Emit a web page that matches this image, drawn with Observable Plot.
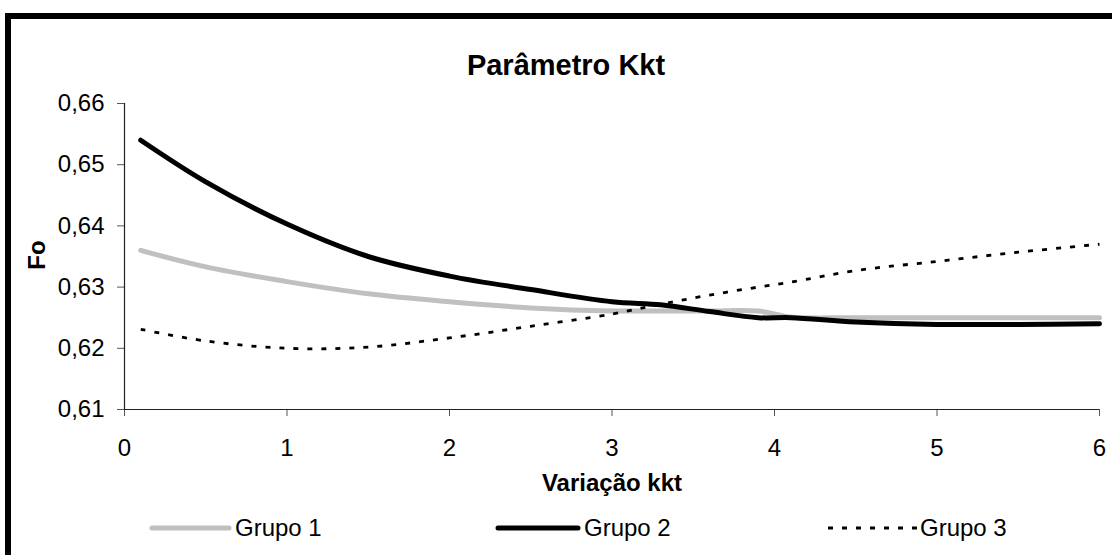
<!DOCTYPE html>
<html>
<head>
<meta charset="utf-8">
<script src="https://cdn.jsdelivr.net/npm/d3@7"></script>
<script src="https://cdn.jsdelivr.net/npm/@observablehq/plot@0.6"></script>
<style>
  html, body { margin: 0; padding: 0; background: #fff; overflow: hidden; }
  #wrap { position: relative; width: 1112px; height: 555px; overflow: hidden; font-family: "Liberation Sans", Arial, sans-serif; color: #000; }
  #frame { position: absolute; left: 5px; top: 13px; width: 1200px; height: 700px; border: 6px solid #000; box-sizing: border-box; }
  #chart { position: absolute; left: 0; top: 0; }
  .t { position: absolute; white-space: nowrap; line-height: 1; }
  #title { left: 0; width: 1132px; top: 51px; text-align: center; font-weight: bold; font-size: 29px; }
  #xlabel { left: 412px; width: 400px; top: 471px; text-align: center; font-weight: bold; font-size: 24px; }
  #ylabel { left: 37px; top: 255px; font-weight: bold; font-size: 24px; transform: translate(-50%, -50%) rotate(-90deg); }
  .leg { position: absolute; top: 515px; height: 26px; display: flex; align-items: center; font-size: 24px; }
  .leg svg { display: block; margin-right: 3px; }
</style>
</head>
<body>
<div id="wrap">
  <div id="frame"></div>
  <div id="chart"></div>
  <div id="title" class="t">Parâmetro Kkt</div>
  <div id="xlabel" class="t">Variação kkt</div>
  <div id="ylabel" class="t">Fo</div>
  <div id="legend"></div>
</div>
<script>
// ---- data ----
const kkt    = [0.1, 0.5, 1, 1.5, 2, 2.5, 3, 3.3, 3.6, 3.9, 4.1, 4.5, 5, 5.5, 6];
const grupo1 = [0.6360, 0.6333, 0.6309, 0.6289, 0.6276, 0.6266, 0.6261, 0.6261, 0.6261, 0.6261, 0.6251, 0.6250, 0.6250, 0.6250, 0.6250];
const grupo2 = [0.6540, 0.6472, 0.6403, 0.6350, 0.6318, 0.6296, 0.6276, 0.6271, 0.6260, 0.6250, 0.6250, 0.6243, 0.6239, 0.6239, 0.6240];
const grupo3 = [0.6231, 0.6212, 0.6200, 0.6202, 0.6217, 0.6236, 0.6256, 0.6272, 0.6287, 0.6300, 0.6308, 0.6327, 0.6342, 0.6357, 0.6370];
const seriesNames = ["Grupo 1", "Grupo 2", "Grupo 3"];
const xTicks = [0, 1, 2, 3, 4, 5, 6];
const yTicks = [0.61, 0.62, 0.63, 0.64, 0.65, 0.66];

const styles = [
  { stroke: "#c0c0c0", strokeWidth: 5, dash: null },
  { stroke: "#000000", strokeWidth: 5, dash: null },
  { stroke: "#000000", strokeWidth: 2.8, dash: "5,9" }
];
const seriesValues = [grupo1, grupo2, grupo3];

const lineMarks = seriesValues.map((vals, s) =>
  Plot.line(kkt.map((x, i) => ({ x, y: vals[i] })), {
    x: "x", y: "y",
    stroke: styles[s].stroke,
    strokeWidth: styles[s].strokeWidth,
    strokeDasharray: styles[s].dash,
    strokeLinecap: styles[s].dash ? "butt" : "round",
    curve: "catmull-rom"
  })
);

const chart = Plot.plot({
  width: 1112,
  height: 555,
  marginLeft: 124,
  marginRight: 13,
  marginTop: 103,
  marginBottom: 146,
  style: { fontFamily: "'Liberation Sans', Arial, sans-serif", fontSize: "24px", color: "#000", background: "transparent", overflow: "visible" },
  x: { domain: [0, 6] },
  y: { domain: [0.61, 0.66] },
  marks: [
    Plot.axisX({ ticks: xTicks, tickSize: 7, tickPadding: 22, tickFormat: d => String(d), label: null, stroke: "#555" }),
    Plot.axisY({ ticks: yTicks, tickSize: 7, tickPadding: 13, tickFormat: d => d.toFixed(2).replace(".", ","), label: null, stroke: "#555" }),
    Plot.ruleX([0], { stroke: "#222", strokeWidth: 1.2 }),
    Plot.ruleY([0.61], { stroke: "#222", strokeWidth: 1.2 }),
    ...lineMarks
  ]
});
document.getElementById("chart").appendChild(chart);

// ---- legend ----
const legendX = [149, 495, 828];
const legendW = [83, 86, 89];
const legend = document.getElementById("legend");
seriesNames.forEach((name, s) => {
  const item = document.createElement("div");
  item.className = "leg";
  item.style.left = legendX[s] + "px";
  const w = legendW[s];
  const st = styles[s];
  item.innerHTML =
    `<svg width="${w}" height="12"><line x1="${st.dash ? 0 : 3}" x2="${st.dash ? w : w - 3}" y1="6" y2="6" stroke="${st.stroke}" stroke-width="${st.strokeWidth}" ${st.dash ? `stroke-dasharray="${st.dash}"` : 'stroke-linecap="round"'}/></svg><span>${name}</span>`;
  legend.appendChild(item);
});
</script>
</body>
</html>
